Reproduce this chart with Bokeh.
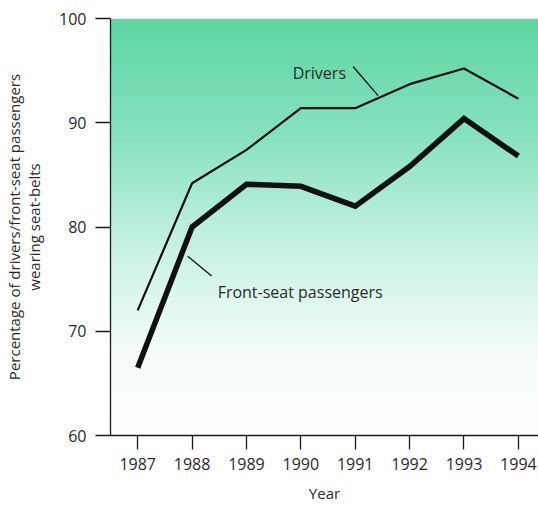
import numpy as np
from bokeh.plotting import figure
from bokeh.models import FixedTicker, Range1d, Label
from bokeh.embed import file_html
from bokeh.resources import INLINE

years = [1987, 1988, 1989, 1990, 1991, 1992, 1993, 1994]
drivers = [72.0, 84.2, 87.4, 91.4, 91.4, 93.7, 95.2, 92.3]
passengers = [66.5, 80.0, 84.1, 83.9, 82.0, 85.8, 90.4, 86.8]
y_ticks = [60, 70, 80, 90, 100]

FONT = "Open Sans"
TXT = "#2a2a2a"

x0, x1 = 1986.5, 1994.37
p = figure(width=538, height=505, output_backend="svg", toolbar_location=None,
           x_range=Range1d(x0, x1), y_range=Range1d(60, 100),
           min_border_left=110, min_border_right=0, min_border_top=18,
           min_border_bottom=69)
p.outline_line_color = None
p.background_fill_color = "white"
p.border_fill_color = "white"

# gradient background (green at top fading to white)
stops_v = [60, 68, 78, 89, 100]
stops_c = [(255, 255, 255), (245, 253, 251), (200, 242, 228), (134, 226, 189), (95, 214, 162)]
rows = 200
vals = np.linspace(60, 100, rows)
img = np.zeros((rows, 2), dtype=np.uint32)
view = img.view(dtype=np.uint8).reshape((rows, 2, 4))
for ch in range(3):
    col = np.interp(vals, stops_v, [c[ch] for c in stops_c])
    view[:, :, ch] = col.astype(np.uint8)[:, None]
view[:, :, 3] = 255
p.image_rgba(image=[img], x=x0, y=60, dw=x1 - x0, dh=40)

# grid lines
p.xgrid.grid_line_color = None
p.ygrid.grid_line_color = "#1a1a1a"
p.ygrid.grid_line_width = 1.3
p.ygrid.ticker = FixedTicker(ticks=y_ticks)

# axes
p.xaxis.ticker = FixedTicker(ticks=years)
p.yaxis.ticker = FixedTicker(ticks=y_ticks)
for ax in (p.xaxis[0], p.yaxis[0]):
    ax.axis_line_color = "#1a1a1a"
    ax.axis_line_width = 1.3
    ax.major_tick_line_color = "#1a1a1a"
    ax.major_tick_line_width = 1.3
    ax.major_tick_in = 0
    ax.minor_tick_line_color = None
    ax.major_label_text_font = FONT
    ax.major_label_text_font_size = "16px"
    ax.major_label_text_color = TXT
    ax.axis_label_text_font = FONT
    ax.axis_label_text_font_size = "15px"
    ax.axis_label_text_font_style = "normal"
    ax.axis_label_text_color = TXT
p.xaxis.major_tick_out = 14
p.xaxis.major_label_standoff = 8
p.xaxis.axis_label = "Year"
p.xaxis.axis_label_standoff = 10
p.yaxis.major_tick_out = 15
p.yaxis.major_label_standoff = 9
p.yaxis.axis_label = "Percentage of drivers/front-seat passengers\nwearing seat-belts"
p.yaxis.axis_label_text_line_height = 1.0
p.yaxis.axis_label_standoff = 12

# series
p.line(years, drivers, line_color="#111111", line_width=2.2)
p.line(years, passengers, line_color="#111111", line_width=5.5, line_join="miter")

# annotations
p.add_layout(Label(x=1989.85, y=94.8, text="Drivers", text_font=FONT,
                   text_font_size="16px", text_color=TXT, text_baseline="middle"))
p.segment(x0=[1990.96], y0=[95.4], x1=[1991.42], y1=[92.6], line_color="#111111", line_width=1.3)
p.add_layout(Label(x=1988.47, y=73.8, text="Front-seat passengers", text_font=FONT,
                   text_font_size="16px", text_color=TXT, text_baseline="middle"))
p.segment(x0=[1987.92], y0=[77.2], x1=[1988.36], y1=[75.3], line_color="#111111", line_width=1.3)

open("out.html", "w").write(file_html(p, INLINE))
